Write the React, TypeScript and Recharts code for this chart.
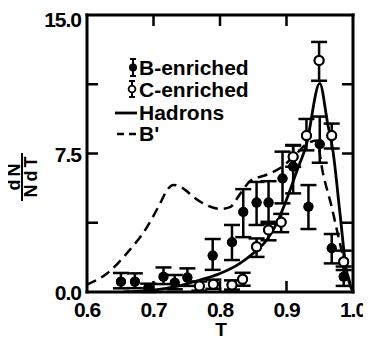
import { ComposedChart, Line, Scatter, ErrorBar, XAxis, YAxis } from 'recharts';

// B-enriched sample (filled points)
const bX = [0.651, 0.672, 0.692, 0.715, 0.732, 0.751, 0.789, 0.818, 0.835, 0.855, 0.873, 0.894, 0.910, 0.933, 0.950, 0.968, 0.986];
const bY = [0.56, 0.56, 0.2, 0.83, 0.5, 0.78, 1.97, 2.69, 4.33, 4.84, 4.84, 6.15, 6.79, 4.62, 8.0, 2.37, 0.83];
const bLo = [0.36, 0.35, 0.2, 0.4, 0.35, 0.45, 0.77, 0.96, 1.36, 1.21, 1.14, 1.35, 1.45, 1.21, 1.0, 0.82, 0.5];
const bHi = [0.47, 0.45, 0.25, 0.5, 0.42, 0.5, 0.9, 0.94, 1.24, 1.12, 1.16, 1.45, 1.17, 1.17, 1.5, 0.77, 0.55];

// C-enriched sample (open points)
const cX = [0.769, 0.790, 0.818, 0.834, 0.855, 0.873, 0.892, 0.910, 0.930, 0.949, 0.968, 0.986];
const cY = [0.32, 0.42, 0.38, 0.69, 2.45, 3.36, 3.78, 7.33, 8.47, 12.54, 8.47, 1.64];
const cLo = [0.25, 0.25, 0.25, 0.35, 0.55, 0.56, 0.54, 0.55, 0.8, 1.1, 0.7, 0.45];
const cHi = [0.25, 0.25, 0.25, 0.35, 0.45, 0.44, 0.45, 0.6, 0.9, 1.0, 0.65, 0.6];

// Hadrons curve
const hX = [0.655, 0.70, 0.74, 0.77, 0.80, 0.83, 0.85, 0.87, 0.885, 0.90, 0.915, 0.93, 0.95, 0.962, 0.97, 0.98, 0.99, 1.0];
const hY = [0, 0.1, 0.35, 0.65, 1.0, 1.55, 2.1, 2.8, 3.7, 5.0, 6.5, 8.0, 11.3, 9.1, 7.6, 4.4, 1.2, 0];

// B' curve
const pX = [0.6, 0.63, 0.66, 0.69, 0.71, 0.72, 0.73, 0.745, 0.76, 0.78, 0.80, 0.815, 0.83, 0.845, 0.87, 0.89, 0.91, 0.93, 0.945, 0.955, 0.968, 0.978, 0.99, 1.0];
const pY = [0.4, 1.0, 2.1, 3.5, 4.8, 5.5, 5.8, 5.6, 5.15, 4.7, 4.5, 4.6, 5.3, 6.0, 6.35, 6.7, 7.3, 8.0, 8.2, 6.4, 4.6, 3.0, 1.2, 0];

const xTicks = [0.6, 0.7, 0.8, 0.9, 1.0];
const yTicks = [0, 3.75, 7.5, 11.25, 15];
const yLabels = [0, 7.5, 15];

const bData = bX.map((x, i) => ({ x, y: bY[i], err: [bLo[i], bHi[i]] }));
const cData = cX.map((x, i) => ({ x, y: cY[i], err: [cLo[i], cHi[i]] }));
const hData = hX.map((x, i) => ({ x, y: hY[i] }));
const pData = pX.map((x, i) => ({ x, y: pY[i] }));

const FONT = '"Liberation Sans", Arial, sans-serif';
const inner = (v: number, lo: number, hi: number) => v > lo && v < hi;

const BottomTick = (props: any) => {
  const { x, y, payload } = props;
  const v = payload.value;
  return (
    <g>
      {inner(v, 0.65, 0.95) && <line x1={x} x2={x} y1={y} y2={y - 11} stroke="#000" strokeWidth={2.5} />}
      <text x={x} y={y + 25} textAnchor="middle" fontFamily={FONT} fontWeight="bold" fontSize={21} letterSpacing={-1} fill="#000">
        {v.toFixed(1)}
      </text>
    </g>
  );
};

const TopTick = (props: any) => {
  const { x, y, payload } = props;
  if (!inner(payload.value, 0.65, 0.95)) return <g />;
  return <line x1={x} x2={x} y1={y} y2={y + 11} stroke="#000" strokeWidth={2.5} />;
};

const LeftTick = (props: any) => {
  const { x, y, payload } = props;
  const v = payload.value;
  return (
    <g>
      {inner(v, 1, 14) && <line x1={x} x2={x + 11} y1={y} y2={y} stroke="#000" strokeWidth={2.5} />}
      {yLabels.includes(v) && (
        <text x={x - 6} y={y + (v === 15 ? 12 : 8)} textAnchor="end" fontFamily={FONT} fontWeight="bold" fontSize={21} letterSpacing={-1} fill="#000">
          {v.toFixed(1)}
        </text>
      )}
    </g>
  );
};

const RightTick = (props: any) => {
  const { x, y, payload } = props;
  if (!inner(payload.value, 1, 14)) return <g />;
  return <line x1={x} x2={x - 11} y1={y} y2={y} stroke="#000" strokeWidth={2.5} />;
};

const filledDot = (props: any) => <circle cx={props.cx} cy={props.cy} r={5} fill="#000" />;
const openDot = (props: any) => <circle cx={props.cx} cy={props.cy} r={4.5} fill="#fff" stroke="#000" strokeWidth={2} />;

const axisLine = { stroke: '#000', strokeWidth: 3, strokeLinecap: 'square' as const };

const App = () => {
  return (
    <div style={{ position: 'relative', width: 371, height: 339, margin: '-8px 0 0 -8px', background: '#fff' }}>
      <ComposedChart width={371} height={339} margin={{ top: 14, right: 17, bottom: 0, left: 0 }}>
        <XAxis xAxisId="b" dataKey="x" type="number" domain={[0.6, 1.0]} ticks={xTicks} interval={0}
          height={47} tickSize={0} tickMargin={0} tickLine={false} axisLine={axisLine} tick={BottomTick} allowDataOverflow />
        <XAxis xAxisId="t" orientation="top" dataKey="x" type="number" domain={[0.6, 1.0]} ticks={xTicks} interval={0}
          height={1} tickSize={0} tickMargin={0} tickLine={false} axisLine={axisLine} tick={TopTick} allowDataOverflow />
        <YAxis yAxisId="l" dataKey="y" type="number" domain={[0, 15]} ticks={yTicks} interval={0}
          width={87} tickSize={0} tickMargin={0} tickLine={false} axisLine={axisLine} tick={LeftTick} allowDataOverflow />
        <YAxis yAxisId="r" orientation="right" dataKey="y" type="number" domain={[0, 15]} ticks={yTicks} interval={0}
          width={1} tickSize={0} tickMargin={0} tickLine={false} axisLine={axisLine} tick={RightTick} allowDataOverflow />
        <Line xAxisId="b" yAxisId="l" data={pData} dataKey="y" type="monotone" stroke="#000" strokeWidth={2.5}
          strokeDasharray="10 6" dot={false} isAnimationActive={false} />
        <Line xAxisId="b" yAxisId="l" data={hData} dataKey="y" type="monotone" stroke="#000" strokeWidth={2.8}
          dot={false} isAnimationActive={false} />
        {/* error bars first, markers drawn again on top so open circles stay hollow */}
        <Scatter xAxisId="b" yAxisId="l" data={cData} dataKey="y" shape={openDot} isAnimationActive={false}>
          <ErrorBar dataKey="err" direction="y" width={8} strokeWidth={2.5} stroke="#000" />
        </Scatter>
        <Scatter xAxisId="b" yAxisId="l" data={bData} dataKey="y" shape={filledDot} isAnimationActive={false}>
          <ErrorBar dataKey="err" direction="y" width={8} strokeWidth={2.5} stroke="#000" />
        </Scatter>
        <Scatter xAxisId="b" yAxisId="l" data={cData} dataKey="y" shape={openDot} isAnimationActive={false} />
        <Scatter xAxisId="b" yAxisId="l" data={bData} dataKey="y" shape={filledDot} isAnimationActive={false} />
      </ComposedChart>

      <svg width={371} height={339} style={{ position: 'absolute', left: 0, top: 0, pointerEvents: 'none' }}>
        <g fontFamily={FONT} fontWeight="bold" fill="#000">
          {/* axis titles */}
          <g transform="translate(22, 177) rotate(-90)">
            <text x={1.5} y={-2} textAnchor="middle" fontSize={18} letterSpacing={3}>dN</text>
            <line x1={-24} x2={24} y1={0} y2={0} stroke="#000" strokeWidth={2} />
            <text x={1.5} y={15} textAnchor="middle" fontSize={18} letterSpacing={3}>NdT</text>
          </g>
          <text x={221} y={336} textAnchor="middle" fontSize={19}>T</text>

          {/* legend */}
          <line x1={133} x2={133} y1={59} y2={76} stroke="#000" strokeWidth={2} />
          <line x1={130} x2={136} y1={59} y2={59} stroke="#000" strokeWidth={2} />
          <line x1={130} x2={136} y1={76} y2={76} stroke="#000" strokeWidth={2} />
          <circle cx={133} cy={67.5} r={4} fill="#000" />
          <text x={139} y={75} fontSize={21}>B-enriched</text>

          <line x1={132} x2={132} y1={81} y2={97} stroke="#000" strokeWidth={2} />
          <line x1={129} x2={135} y1={81} y2={81} stroke="#000" strokeWidth={2} />
          <line x1={129} x2={135} y1={97} y2={97} stroke="#000" strokeWidth={2} />
          <circle cx={132} cy={89} r={3.4} fill="#fff" stroke="#000" strokeWidth={1.8} />
          <text x={139} y={97} fontSize={21}>C-enriched</text>

          <line x1={115} x2={137} y1={113} y2={113} stroke="#000" strokeWidth={2.8} />
          <text x={139} y={120} fontSize={21}>Hadrons</text>

          <line x1={117} x2={137} y1={134} y2={134} stroke="#000" strokeWidth={2.5} strokeDasharray="7 5" />
          <text x={139} y={141} fontSize={21}>B'</text>
        </g>
      </svg>
    </div>
  );
};

export default App;
